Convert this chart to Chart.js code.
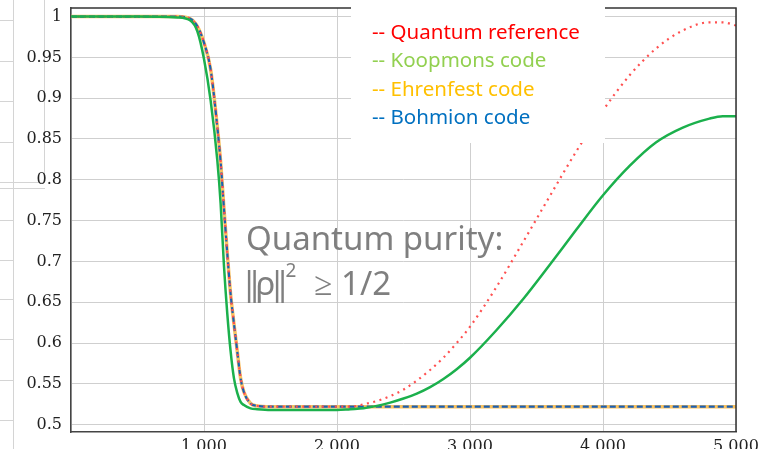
<!DOCTYPE html>
<html>
<head>
<meta charset="utf-8">
<script src="https://cdn.jsdelivr.net/npm/chart.js@4.4.1/dist/chart.umd.min.js"></script>
<style>
  html, body { margin: 0; padding: 0; background: #fff; }
  canvas { display: block; }
</style>
</head>
<body>
<canvas id="purity" width="769" height="449"></canvas>
<script>
// time axis (shared by all series)
const timeSteps = [0, 500, 800, 900, 950, 1000, 1050, 1100, 1125, 1150, 1175, 1200, 1225, 1250, 1275,
  1300, 1350, 1400, 1500, 1750, 2000, 2100, 2200, 2300, 2400, 2500, 2600, 2700, 2800, 2900,
  3000, 3200, 3400, 3600, 3800, 4000, 4200, 4400, 4600, 4800, 4900, 5000];

const quantumPurity = [1, 1, 1, 0.997, 0.988, 0.968, 0.935, 0.865, 0.822, 0.765, 0.71, 0.66, 0.624, 0.59, 0.557,
  0.54, 0.526, 0.523, 0.522, 0.522, 0.522, 0.522, 0.525, 0.529, 0.535, 0.543, 0.554, 0.567, 0.582, 0.6,
  0.62, 0.669, 0.724, 0.78, 0.835, 0.885, 0.928, 0.961, 0.983, 0.993, 0.993, 0.989];

const koopmonsPurity = [1, 1, 0.999, 0.995, 0.982, 0.948, 0.897, 0.824, 0.771, 0.695, 0.636, 0.59, 0.557, 0.539, 0.528,
  0.524, 0.52, 0.519, 0.518, 0.518, 0.518, 0.519, 0.52, 0.523, 0.527, 0.532, 0.538, 0.546, 0.556, 0.568,
  0.582, 0.616, 0.654, 0.696, 0.739, 0.781, 0.817, 0.846, 0.864, 0.875, 0.878, 0.878];

const ehrenfestPurity = [1, 1, 1, 0.997, 0.988, 0.968, 0.935, 0.865, 0.822, 0.765, 0.71, 0.66, 0.624, 0.59, 0.557,
  0.54, 0.526, 0.523, 0.522, 0.522, 0.522, 0.522, 0.522, 0.522, 0.522, 0.522, 0.522, 0.522, 0.522, 0.522,
  0.522, 0.522, 0.522, 0.522, 0.522, 0.522, 0.522, 0.522, 0.522, 0.522, 0.522, 0.522];

const bohmionPurity = [1, 1, 1, 0.997, 0.988, 0.968, 0.935, 0.865, 0.822, 0.765, 0.71, 0.66, 0.624, 0.59, 0.557,
  0.54, 0.526, 0.523, 0.522, 0.522, 0.522, 0.522, 0.522, 0.522, 0.522, 0.522, 0.522, 0.522, 0.522, 0.522,
  0.522, 0.522, 0.522, 0.522, 0.522, 0.522, 0.522, 0.522, 0.522, 0.522, 0.522, 0.522];

const seriesNames = ['Quantum reference', 'Koopmons code', 'Ehrenfest code', 'Bohmion code'];
const legendColors = ['#ff0000', '#92d050', '#ffc000', '#0070c0'];
const noteTitle = 'Quantum purity:';
// second note line, split so the norm bars can sit tight like the original
const notePieces = ['|', '|', 'ρ', '|', '|', '2', '≥', '1/2'];

function points(ys) {
  return timeSteps.map((t, i) => ({ x: t, y: ys[i] }));
}

const serif = 'DejaVu Serif';

// frame, white legend card and the annotation
const decorations = {
  id: 'decorations',
  beforeDraw(chart) {
    const ctx = chart.ctx;
    ctx.save();
    // faint edge of a neighbouring figure
    ctx.strokeStyle = '#d4d4d4';
    ctx.lineWidth = 1;
    ctx.beginPath();
    ctx.moveTo(13.5, 0); ctx.lineTo(13.5, 449);
    [20, 61, 101, 142, 220, 260, 299, 339, 380, 420].forEach(y => {
      ctx.moveTo(0, y + 0.5); ctx.lineTo(13, y + 0.5);
    });
    ctx.moveTo(0, 182.5); ctx.lineTo(45, 182.5);
    ctx.moveTo(0, 188.5); ctx.lineTo(45, 188.5);
    ctx.moveTo(44.5, 0); ctx.lineTo(44.5, 182);
    ctx.stroke();
    ctx.restore();
  },
  afterDatasetsDraw(chart) {
    const ctx = chart.ctx;
    const a = chart.chartArea;
    ctx.save();
    ctx.strokeStyle = '#333';
    ctx.lineWidth = 1.5;
    ctx.beginPath();
    ctx.moveTo(a.left, a.top); ctx.lineTo(a.right, a.top); ctx.lineTo(a.right, a.bottom);
    ctx.stroke();

    ctx.fillStyle = '#fff';
    ctx.fillRect(351, 0, 254, 143);

    ctx.font = '20.5px "Noto Sans"';
    ctx.textBaseline = 'middle';
    seriesNames.forEach((name, i) => {
      ctx.fillStyle = legendColors[i];
      ctx.fillText('-- ' + name, 372, 33 + i * 28.5);
    });

    ctx.fillStyle = '#7f7f7f';
    ctx.font = '33px "Noto Sans"';
    ctx.fillText(noteTitle, 246, 241);
    // centres for the tight pieces, left edges for the rest
    const xs = [249, 254.5, 265.5, 277, 282.5, 291, 314, 341];
    notePieces.forEach((p, i) => {
      ctx.textAlign = i < 6 ? 'center' : 'left';
      if (i === 5) {
        ctx.font = '19px "Noto Sans"';
        ctx.fillText(p, xs[i], 272);
        ctx.font = '33px "Noto Sans"';
      } else {
        ctx.fillText(p, xs[i], 286);
      }
    });
    ctx.restore();
  }
};

new Chart(document.getElementById('purity'), {
  type: 'line',
  data: {
    datasets: [
      { label: seriesNames[0], data: points(quantumPurity), borderColor: '#ff5050', borderWidth: 2.2,
        borderDash: [2, 4.5], order: 2 },
      { label: seriesNames[1], data: points(koopmonsPurity), borderColor: '#1bb04c', borderWidth: 2.5, order: 1 },
      { label: seriesNames[2], data: points(ehrenfestPurity), borderColor: '#f9c260', borderWidth: 3.5, order: 4 },
      { label: seriesNames[3], data: points(bohmionPurity), borderColor: '#1a5fb4', borderWidth: 2.2,
        borderDash: [6, 3], order: 3 }
    ]
  },
  options: {
    responsive: false,
    animation: false,
    devicePixelRatio: 1,
    layout: { padding: { left: 0, right: 33, top: 8, bottom: 0 } },
    elements: {
      point: { radius: 0 },
      line: { cubicInterpolationMode: 'monotone', fill: false }
    },
    plugins: { legend: { display: false }, tooltip: { enabled: false } },
    scales: {
      x: {
        type: 'linear', min: 0, max: 5000,
        afterFit: s => { s.height = 17; s.paddingLeft = 0; s.paddingRight = 0; },
        border: { color: '#444', width: 1.5 },
        grid: { color: '#cfcfcf', drawTicks: false },
        ticks: {
          stepSize: 1000, padding: 5, maxRotation: 0,
          color: '#222', font: { family: serif, size: 16 },
          callback: v => v === 0 ? '' : v.toLocaleString('en-US')
        }
      },
      y: {
        min: 0.491, max: 1.0105,
        afterFit: s => { s.width = 71; s.paddingTop = 0; s.paddingBottom = 0; },
        border: { color: '#444', width: 1.5 },
        grid: { color: '#cfcfcf', drawTicks: false },
        ticks: {
          stepSize: 0.05, includeBounds: false, padding: 9,
          color: '#222', font: { family: serif, size: 16 },
          callback: v => String(Math.round(v * 100) / 100)
        }
      }
    }
  },
  plugins: [decorations]
});
</script>
</body>
</html>
